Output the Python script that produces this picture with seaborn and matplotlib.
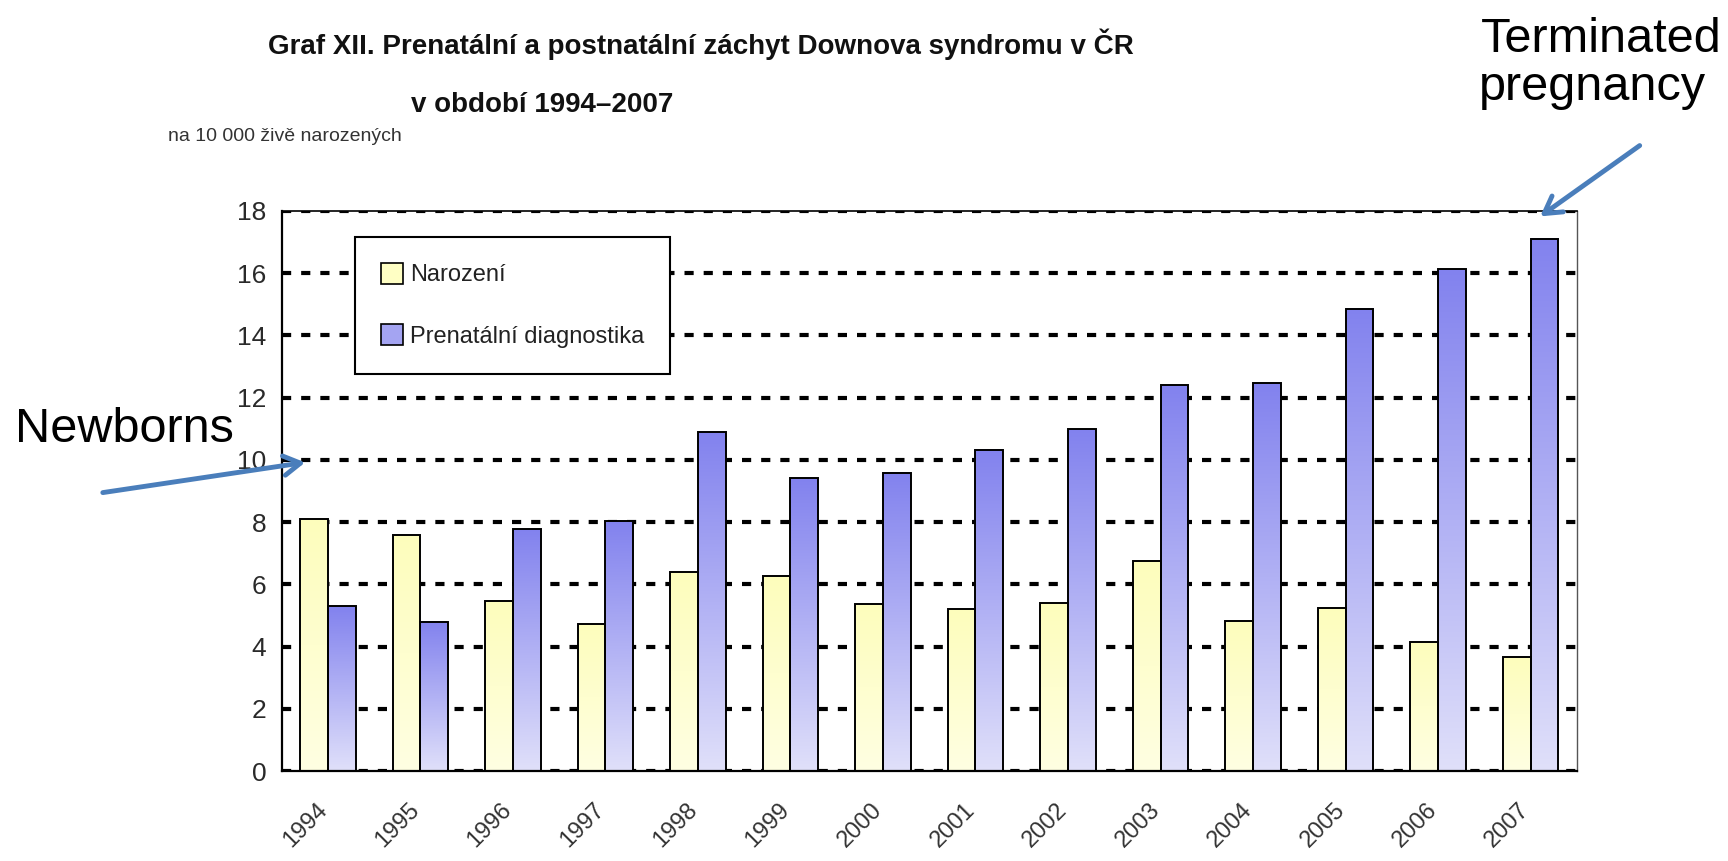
import numpy as np
import pandas as pd

import matplotlib
matplotlib.use("Agg")
from matplotlib import pyplot as plt
from matplotlib import transforms
from matplotlib.patches import Patch, FancyArrowPatch
from matplotlib.colors import LinearSegmentedColormap
import seaborn as sns

sns.set_style("white")
narrow = ["Liberation Sans Narrow", "Liberation Sans", "DejaVu Sans"]
plt.rcParams["font.family"] = narrow

# data (per 10 000 live births)
roky = ["1994", "1995", "1996", "1997", "1998", "1999", "2000",
        "2001", "2002", "2003", "2004", "2005", "2006", "2007"]
narozeni = [8.1, 7.58, 5.45, 4.73, 6.41, 6.28, 5.38,
            5.2, 5.39, 6.74, 4.81, 5.25, 4.16, 3.65]
prenatalni = [5.3, 4.8, 7.77, 8.02, 10.89, 9.41, 9.58,
              10.33, 10.98, 12.4, 12.46, 14.85, 16.13, 17.1]
serie = ["Narození", "Prenatální diagnostika"]
y_ticks = [0, 2, 4, 6, 8, 10, 12, 14, 16, 18]

df = pd.DataFrame({
    "rok": roky * 2,
    "hodnota": narozeni + prenatalni,
    "typ": [serie[0]] * len(roky) + [serie[1]] * len(roky),
})

yellow = "#ffffc4"
blue = "#a4a4f2"
grad_colors = [("#ffffe2", "#fdfdbc"), ("#e0e0fa", "#8282ee")]

fig = plt.figure(figsize=(17.28, 8.61), dpi=100)
ax = fig.add_axes([0.163, 0.1045, 0.7495, 0.6505])

sns.barplot(data=df, x="rok", y="hodnota", hue="typ", palette=[yellow, blue],
            width=0.6, edgecolor="black", linewidth=1.4, legend=False, ax=ax)

# gradient fill inside each bar (Excel style)
grad = np.linspace(0, 1, 256).reshape(-1, 1)
for cont, (c_bot, c_top) in zip(ax.containers, grad_colors):
    cmap = LinearSegmentedColormap.from_list("g", [c_bot, c_top])
    for p in cont:
        x0, w, h = p.get_x(), p.get_width(), p.get_height()
        ax.imshow(grad, extent=[x0, x0 + w, 0, h], origin="lower",
                  aspect="auto", cmap=cmap, zorder=1.5)
        p.set_facecolor("none")
        p.set_zorder(2)
ax.set_xlim(-0.5, len(roky) - 0.5)
ax.set_ylim(0, 18)

ax.set_axisbelow(True)
ax.yaxis.grid(True, color="black", linewidth=3, linestyle=(0, (2.2, 2.4)))
ax.set_yticks(y_ticks)
ax.set_xticks(range(len(roky)))
ax.set_xticklabels(roky)
ax.set_xticks(np.arange(-0.5, len(roky), 1), minor=True)
ax.set_xlabel("")
ax.set_ylabel("")

ax.tick_params(axis="x", which="major", length=0, pad=20, labelsize=17,
               labelcolor="#333333")
ax.tick_params(axis="x", which="minor", length=8, width=1.3, color="black")
ax.tick_params(axis="y", length=7, width=1.3, color="black", labelsize=19,
               labelcolor="#2a2a2a", pad=4)
shift = transforms.ScaledTranslation(-0.12, 0, fig.dpi_scale_trans)
for lab in ax.get_xticklabels():
    lab.set_rotation(45)
    lab.set_ha("right")
    lab.set_rotation_mode("anchor")
    lab.set_transform(lab.get_transform() + shift)

for s in ["left", "bottom"]:
    ax.spines[s].set_color("black")
    ax.spines[s].set_linewidth(1.6)
ax.spines["top"].set_color("black")
ax.spines["top"].set_linewidth(1.2)
ax.spines["right"].set_color("#555555")
ax.spines["right"].set_linewidth(1.0)

handles = [Patch(facecolor=yellow, edgecolor="black", linewidth=1.2),
           Patch(facecolor=blue, edgecolor="black", linewidth=1.2)]
leg = ax.legend(handles, serie, loc="upper left", bbox_to_anchor=(0.057, 0.954),
                borderaxespad=0, fontsize=17, frameon=True, fancybox=False,
                framealpha=1, edgecolor="black", borderpad=1.1, labelspacing=1.6,
                handlelength=0.9, handleheight=1.0, handletextpad=0.3)
leg.get_frame().set_linewidth(1.5)
for t in leg.get_texts():
    t.set_color("#222222")

# titles
fig.text(0.155, 0.949, "Graf XII. Prenatální a postnatální záchyt Downova syndromu v ČR",
         fontsize=20, fontweight="bold", va="center", ha="left", color="#111111")
fig.text(0.2378, 0.878, "v období 1994–2007",
         fontsize=20, fontweight="bold", va="center", ha="left", color="#111111")
fig.text(0.0972, 0.841, "na 10 000 živě narozených", fontsize=14,
         va="center", ha="left", color="#333333")

# annotations
arial = ["Liberation Sans", "DejaVu Sans"]
fig.text(0.0087, 0.4866, "Newborns", fontsize=35, family=arial,
         va="baseline", ha="left", color="black")
fig.text(0.9265, 0.9396, "Terminated", fontsize=35, family=arial,
         va="baseline", ha="center", color="black")
fig.text(0.9213, 0.8839, "pregnancy", fontsize=35, family=arial,
         va="baseline", ha="center", color="black")

arrow_color = "#4a7ebb"
for start, end in [((0.0579, 0.4274), (0.1782, 0.4634)),
                   ((0.9502, 0.8328), (0.8900, 0.7468))]:
    fig.add_artist(FancyArrowPatch(start, end, transform=fig.transFigure,
                                   arrowstyle="->,head_length=12,head_width=7",
                                   color=arrow_color, linewidth=3.5,
                                   mutation_scale=1))

fig.savefig("out.png", dpi=100)
